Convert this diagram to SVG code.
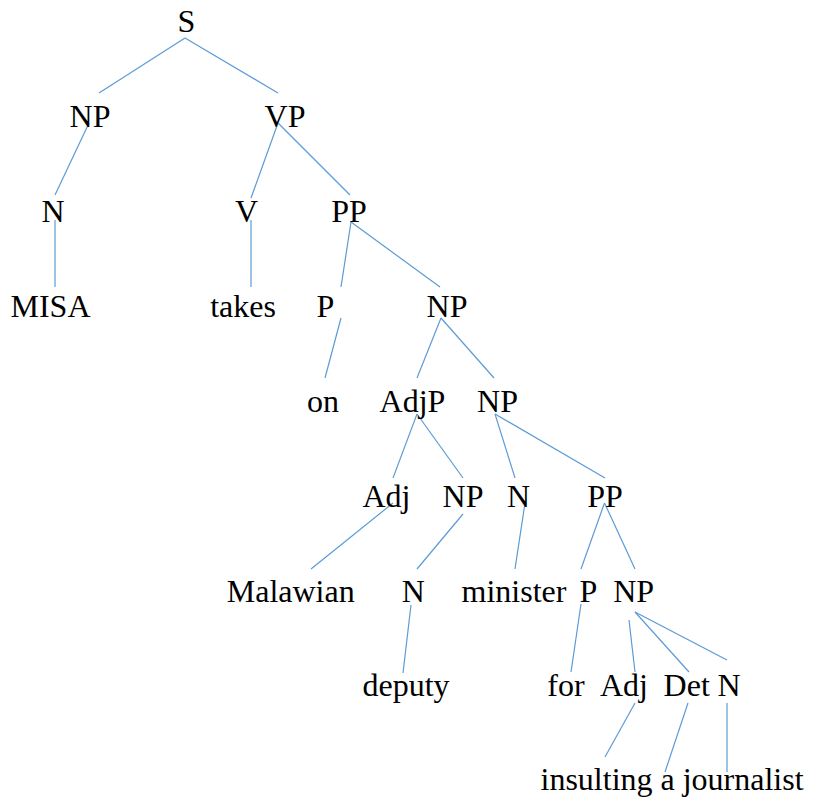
<svg xmlns="http://www.w3.org/2000/svg" width="816" height="804" viewBox="0 0 816 804">
  <rect width="816" height="804" fill="#fff"/>

  <!-- branches of the parse tree -->
  <g id="edges" stroke="#5b9bd5" stroke-width="1.2" fill="none">
    <line x1="185" y1="38" x2="99" y2="93"/>
    <line x1="185" y1="38" x2="278" y2="93"/>
    <line x1="89" y1="123" x2="55" y2="195"/>
    <line x1="55" y1="220" x2="55" y2="287"/>
    <line x1="278" y1="123" x2="251" y2="198"/>
    <line x1="278" y1="123" x2="350" y2="195"/>
    <line x1="251" y1="220" x2="251" y2="287"/>
    <line x1="351" y1="222" x2="341" y2="287"/>
    <line x1="351" y1="222" x2="440" y2="287"/>
    <line x1="341" y1="318" x2="325" y2="378"/>
    <line x1="441" y1="318" x2="417" y2="378"/>
    <line x1="441" y1="318" x2="494" y2="378"/>
    <line x1="417" y1="414" x2="393" y2="478"/>
    <line x1="417" y1="414" x2="463" y2="478"/>
    <line x1="495" y1="414" x2="515" y2="478"/>
    <line x1="495" y1="414" x2="605" y2="478"/>
    <line x1="393" y1="503" x2="311" y2="569"/>
    <line x1="463" y1="514" x2="417" y2="569"/>
    <line x1="525" y1="503" x2="515" y2="569"/>
    <line x1="604.5" y1="503" x2="581" y2="569"/>
    <line x1="604.5" y1="503" x2="635" y2="569"/>
    <line x1="411" y1="605" x2="403" y2="673"/>
    <line x1="581" y1="604" x2="571" y2="672"/>
    <line x1="629" y1="620" x2="635" y2="672"/>
    <line x1="635" y1="612" x2="689" y2="672"/>
    <line x1="635" y1="612" x2="727" y2="660"/>
    <line x1="635" y1="703" x2="605" y2="757"/>
    <line x1="688" y1="703" x2="665" y2="772"/>
    <line x1="727" y1="703" x2="727" y2="772"/>
  </g>

  <!-- level 0 -->
  <g id="n-S"><text font-family="'Liberation Serif'" font-size="32" text-anchor="middle" x="186.5" y="32">S</text></g>
  <!-- level 1 -->
  <g id="n-NP1"><text font-family="'Liberation Serif'" font-size="32" text-anchor="middle" x="90" y="127">NP</text></g>
  <g id="n-VP"><text font-family="'Liberation Serif'" font-size="32" text-anchor="middle" x="285" y="127">VP</text></g>
  <!-- level 2 -->
  <g id="n-N1"><text font-family="'Liberation Serif'" font-size="32" text-anchor="middle" x="53" y="222">N</text></g>
  <g id="n-V"><text font-family="'Liberation Serif'" font-size="32" text-anchor="middle" x="246.5" y="222">V</text></g>
  <g id="n-PP1"><text font-family="'Liberation Serif'" font-size="32" text-anchor="middle" x="349" y="222">PP</text></g>
  <!-- level 3 -->
  <g id="n-MISA"><text font-family="'Liberation Serif'" font-size="32" text-anchor="middle" x="50.5" y="317">MISA</text></g>
  <g id="n-takes"><text font-family="'Liberation Serif'" font-size="32" text-anchor="middle" x="243" y="317">takes</text></g>
  <g id="n-P1"><text font-family="'Liberation Serif'" font-size="32" text-anchor="middle" x="325.5" y="317">P</text></g>
  <g id="n-NP2"><text font-family="'Liberation Serif'" font-size="32" text-anchor="middle" x="447" y="317">NP</text></g>
  <!-- level 4 -->
  <g id="n-on"><text font-family="'Liberation Serif'" font-size="32" text-anchor="middle" x="323" y="412">on</text></g>
  <g id="n-AdjP"><text font-family="'Liberation Serif'" font-size="32" text-anchor="middle" x="412.5" y="412">AdjP</text></g>
  <g id="n-NP3"><text font-family="'Liberation Serif'" font-size="32" text-anchor="middle" x="497.5" y="412">NP</text></g>
  <!-- level 5 -->
  <g id="n-Adj1"><text font-family="'Liberation Serif'" font-size="32" text-anchor="middle" x="386.5" y="507">Adj</text></g>
  <g id="n-NP4"><text font-family="'Liberation Serif'" font-size="32" text-anchor="middle" x="463" y="507">NP</text></g>
  <g id="n-N2"><text font-family="'Liberation Serif'" font-size="32" text-anchor="middle" x="518.5" y="507">N</text></g>
  <g id="n-PP2"><text font-family="'Liberation Serif'" font-size="32" text-anchor="middle" x="605" y="507">PP</text></g>
  <!-- level 6 -->
  <g id="n-Malawian"><text font-family="'Liberation Serif'" font-size="32" text-anchor="middle" x="290.7" y="602">Malawian</text></g>
  <g id="n-N3"><text font-family="'Liberation Serif'" font-size="32" text-anchor="middle" x="413.3" y="602">N</text></g>
  <g id="n-minister"><text font-family="'Liberation Serif'" font-size="32" text-anchor="middle" x="514" y="602">minister</text></g>
  <g id="n-P2"><text font-family="'Liberation Serif'" font-size="32" text-anchor="middle" x="588.3" y="602">P</text></g>
  <g id="n-NP5"><text font-family="'Liberation Serif'" font-size="32" text-anchor="middle" x="633.7" y="602">NP</text></g>
  <!-- level 7 -->
  <g id="n-deputy"><text font-family="'Liberation Serif'" font-size="32" text-anchor="middle" x="406" y="696">deputy</text></g>
  <g id="n-for"><text font-family="'Liberation Serif'" font-size="32" text-anchor="middle" x="566" y="696">for</text></g>
  <g id="n-Adj2"><text font-family="'Liberation Serif'" font-size="32" text-anchor="middle" x="624" y="696">Adj</text></g>
  <g id="n-Det"><text font-family="'Liberation Serif'" font-size="32" text-anchor="middle" x="686.7" y="696">Det</text></g>
  <g id="n-N4"><text font-family="'Liberation Serif'" font-size="32" text-anchor="middle" x="729" y="696">N</text></g>
  <!-- level 8 -->
  <g id="n-insulting"><text font-family="'Liberation Serif'" font-size="32" x="540.5" y="790">insulting</text></g>
  <g id="n-a"><text font-family="'Liberation Serif'" font-size="32" x="660.5" y="790">a</text></g>
  <g id="n-journalist"><text font-family="'Liberation Serif'" font-size="32" x="682.7" y="790">journalist</text></g>
</svg>
